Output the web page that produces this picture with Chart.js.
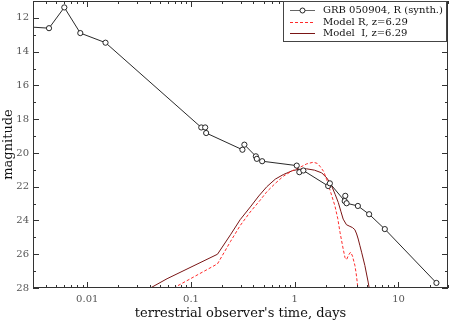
<!DOCTYPE html>
<html>
<head>
<meta charset="utf-8">
<script src="https://cdn.jsdelivr.net/npm/chart.js@4"></script>
<style>
  html, body { margin: 0; padding: 0; background: #fff; }
  #wrap { width: 458px; height: 322px; }
</style>
</head>
<body>
<div id="wrap"><canvas id="lc" width="458" height="322"></canvas></div>
<script>
// observed light curve (days, mag)
const grbTime = [0.0028, 0.00428, 0.00601, 0.00857, 0.0150, 0.1256, 0.137, 0.140, 0.313, 0.327, 0.422, 0.431, 0.485,
  1.045, 1.107, 1.21, 2.10, 2.18, 3.03, 3.07, 3.16, 4.06, 5.21, 7.38, 23.2];
const grbMag = [12.54, 12.61, 11.38, 12.9, 13.47, 18.49, 18.49, 18.82, 19.81, 19.51, 20.2, 20.35, 20.49,
  20.75, 21.14, 21.04, 21.96, 21.8, 22.85, 22.54, 22.98, 23.14, 23.63, 24.51, 27.7];

// model R band
const modelRTime = [0.068, 0.18, 0.24, 0.298, 0.372, 0.464, 0.538, 0.65, 0.776, 0.95, 1.125, 1.3, 1.51, 1.65, 1.75,
  1.9, 2.03, 2.2, 2.44, 2.6, 2.73, 2.93, 3.05, 3.16, 3.3, 3.45, 3.6, 3.8, 3.9, 4.0, 4.07];
const modelRMag = [28, 26.57, 25.25, 24.3, 23.5, 22.8, 22.3, 21.8, 21.38, 21.05, 20.85, 20.65, 20.55, 20.62, 20.79,
  21.1, 21.57, 22.25, 23.14, 23.9, 24.7, 25.69, 26.2, 26.32, 26.05, 25.88, 26.1, 26.67, 27.1, 27.65, 28.1];

// model I band
const modelITime = [0.0406, 0.0588, 0.18, 0.24, 0.298, 0.373, 0.45, 0.538, 0.65, 0.776, 0.95, 1.1, 1.3, 1.55, 1.82,
  2.05, 2.27, 2.45, 2.63, 2.78, 2.93, 3.15, 3.4, 3.6, 3.8, 3.95, 4.09, 4.25, 4.41, 4.74, 5.1, 5.25];
const modelIMag = [28, 27.45, 26.0, 24.85, 23.95, 23.2, 22.55, 22.0, 21.55, 21.28, 21.05, 20.97, 20.94, 21.02, 21.18,
  21.5, 21.96, 22.45, 22.94, 23.45, 23.92, 24.25, 24.35, 24.42, 24.55, 24.8, 25.1, 25.5, 25.88, 26.67, 27.65, 28.1];

const xTickVals = [0.01, 0.1, 1, 10];
const yTickVals = [12, 14, 16, 18, 20, 22, 24, 26, 28];

const seriesLabels = ["GRB 050904, R (synth.)", "Model R, z=6.29", "Model  I, z=6.29"];

const toXY = (xs, ys) => xs.map((x, i) => ({ x: x, y: ys[i] }));

const serif = "'DejaVu Serif', serif";

// no extra room for half tick labels, the plot box is fixed
const noPad = (s) => { s.paddingTop = 0; s.paddingBottom = 0; s.paddingLeft = 0; s.paddingRight = 0; };

// inward tick marks on all four sides, frame and legend box
const frameTicks = {
  id: "frameTicks",
  afterDraw(chart) {
    const { ctx, chartArea: a, scales } = chart;
    const xs = scales.x, ys = scales.y;
    ctx.save();
    ctx.strokeStyle = "#333";
    ctx.lineWidth = 1;
    ctx.strokeRect(a.left + 0.5, a.top + 0.5, a.right - a.left - 1, a.bottom - a.top - 1);
    ctx.beginPath();
    for (let e = -3; e <= 1; e++) {
      for (let k = 1; k <= 9; k++) {
        const v = k * Math.pow(10, e);
        if (v < xs.min || v > xs.max) continue;
        const px = Math.round(xs.getPixelForValue(v)) + 0.5;
        const len = k === 1 ? 6 : 3;
        ctx.moveTo(px, a.bottom); ctx.lineTo(px, a.bottom - len);
        ctx.moveTo(px, a.top); ctx.lineTo(px, a.top + len);
      }
    }
    for (let v = 11; v <= 28; v++) {
      const py = Math.round(ys.getPixelForValue(v)) + 0.5;
      const len = v % 2 === 0 ? 6 : 3;
      ctx.moveTo(a.left, py); ctx.lineTo(a.left + len, py);
      ctx.moveTo(a.right, py); ctx.lineTo(a.right - len, py);
    }
    ctx.stroke();

    // legend box
    const bx = 283.5, by = a.top + 0.5, bw = 163, bh = 40;
    ctx.fillStyle = "#fff";
    ctx.fillRect(bx, by, bw, bh);
    ctx.strokeStyle = "#444";
    ctx.strokeRect(bx, by, bw, bh);
    ctx.font = "10px " + serif;
    ctx.textBaseline = "middle";
    const rows = [10.5, 22.5, 33.5];
    chart.data.datasets.forEach((ds, i) => {
      const y = rows[i];
      ctx.beginPath();
      ctx.strokeStyle = i === 0 ? "#666" : ds.borderColor;
      ctx.lineWidth = 1;
      ctx.setLineDash(ds.borderDash || []);
      ctx.moveTo(290, y); ctx.lineTo(315, y);
      ctx.stroke();
      ctx.setLineDash([]);
      if (i === 0) {
        ctx.beginPath();
        ctx.fillStyle = "#fff";
        ctx.strokeStyle = "#222";
        ctx.arc(302.5, y, 2.5, 0, Math.PI * 2);
        ctx.fill();
        ctx.stroke();
      }
      ctx.fillStyle = "#111";
      ctx.fillText(ds.label, 323, y);
    });
    ctx.restore();
  }
};

new Chart(document.getElementById("lc"), {
  type: "line",
  data: {
    datasets: [
      {
        label: seriesLabels[0],
        data: toXY(grbTime, grbMag),
        borderColor: "#111",
        borderWidth: 0.9,
        pointRadius: 2.6,
        pointBorderWidth: 0.9,
        pointBackgroundColor: "#fff",
        pointBorderColor: "#111",
        tension: 0
      },
      {
        label: seriesLabels[1],
        data: toXY(modelRTime, modelRMag),
        borderColor: "#ff2a2a",
        borderWidth: 1,
        borderDash: [3, 2],
        pointRadius: 0,
        tension: 0
      },
      {
        label: seriesLabels[2],
        data: toXY(modelITime, modelIMag),
        borderColor: "#7a1515",
        borderWidth: 1,
        pointRadius: 0,
        tension: 0
      }
    ]
  },
  options: {
    responsive: false,
    animation: false,
    layout: { autoPadding: false, padding: { top: 1, right: 10, left: 0, bottom: 0 } },
    plugins: { legend: { display: false }, tooltip: { enabled: false } },
    scales: {
      x: {
        type: "logarithmic",
        min: 0.003,
        max: 30,
        grid: { display: false, drawTicks: false },
        border: { display: false },
        afterBuildTicks: (s) => { s.ticks = xTickVals.map((v) => ({ value: v })); },
        afterFit: (s) => { s.height = 34; noPad(s); },
        ticks: {
          padding: 5,
          color: "#555",
          font: { family: serif, size: 10 },
          maxRotation: 0,
          autoSkip: false,
          callback: (v) => String(v)
        },
        title: {
          display: true,
          text: "terrestrial observer's time, days",
          color: "#111",
          font: { family: serif, size: 13 },
          padding: { top: 0, bottom: 1 }
        }
      },
      y: {
        type: "linear",
        reverse: true,
        min: 11,
        max: 28,
        grid: { display: false, drawTicks: false },
        border: { display: false },
        afterBuildTicks: (s) => { s.ticks = yTickVals.map((v) => ({ value: v })); },
        afterFit: (s) => { s.width = 33; noPad(s); },
        ticks: {
          padding: 4,
          color: "#555",
          font: { family: serif, size: 10 },
          autoSkip: false
        },
        title: {
          display: true,
          text: "magnitude",
          color: "#111",
          font: { family: serif, size: 13 },
          padding: { top: 1, bottom: 0 }
        }
      }
    }
  },
  plugins: [frameTicks]
});
</script>
</body>
</html>
